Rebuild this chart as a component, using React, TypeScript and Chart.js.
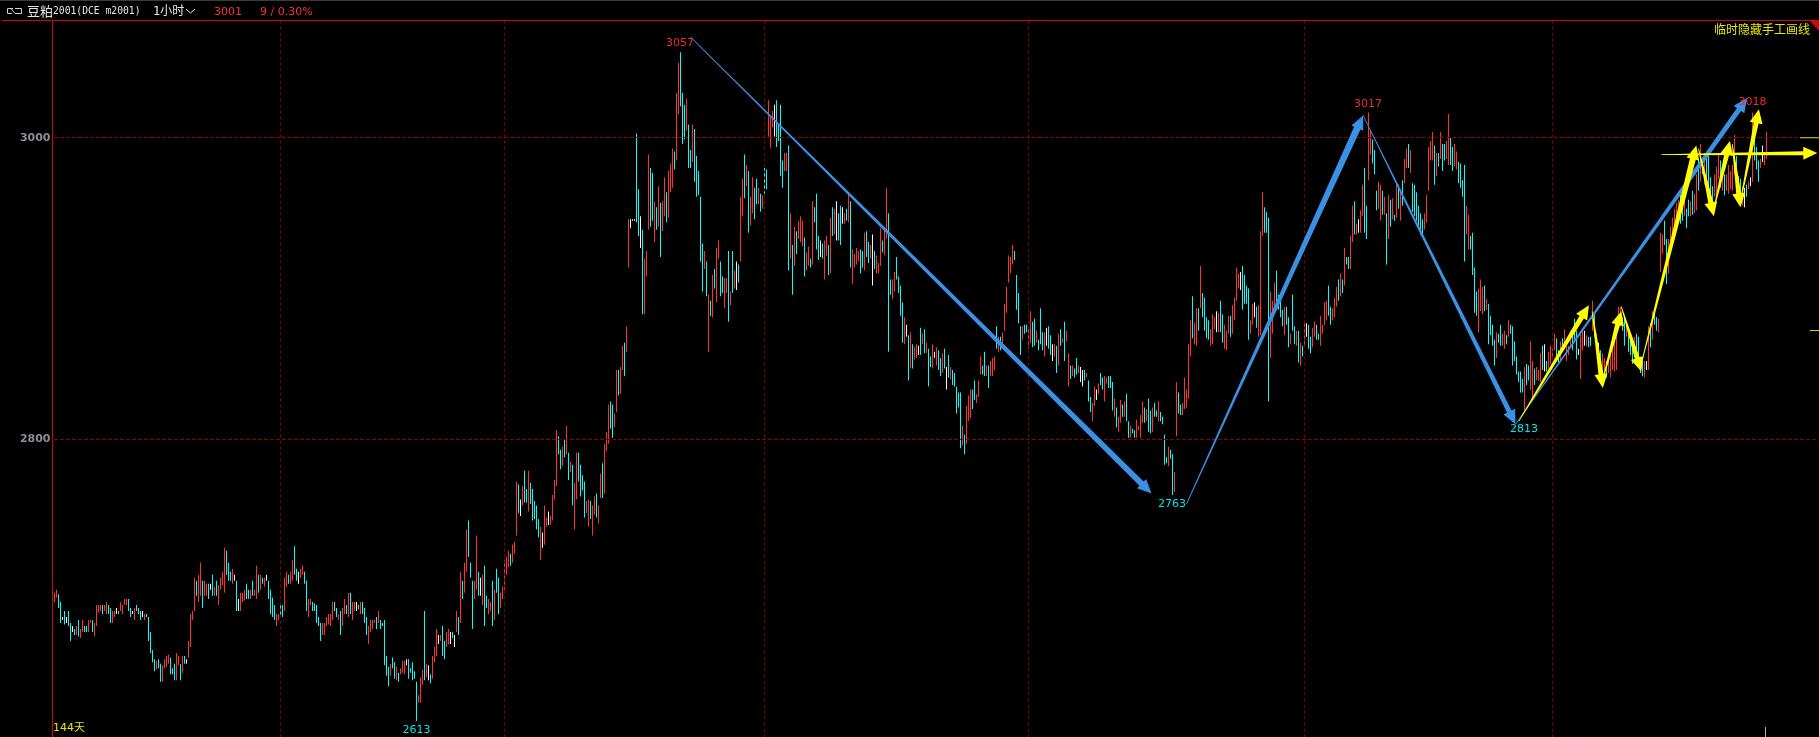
import React, { useEffect, useRef } from "react";
import { Chart, registerables } from "chart.js";

Chart.register(...registerables);

const R = 1, C = -1, W = 0;
type Bar = [number, number, number];

const barsA: Bar[] = [
[2698,2692,R],[2700,2695,R],[2697,2688,C],[2692,2678,C],[2682,2680,W],[2686,2677,C],[2682,2678,W],[2686,2676,C],[2678,2666,C],[2676,2672,W],
[2674,2670,C],[2676,2670,R],[2680,2669,C],[2674,2668,R],[2680,2672,R],[2676,2672,C],[2676,2672,C],[2680,2672,R],[2680,2678,R],[2680,2672,C],
[2678,2669,R],[2690,2676,R],[2690,2685,R],[2690,2686,R],[2690,2684,C],[2690,2686,R],[2692,2684,R],[2690,2684,C],[2688,2678,C],[2686,2678,R],
[2686,2682,R],[2688,2684,W],[2686,2684,C],[2692,2686,R],[2690,2684,R],[2694,2690,R],[2694,2690,R],[2694,2686,C],[2688,2682,C],[2686,2684,W],
[2688,2680,R],[2690,2686,C],[2688,2684,C],[2686,2680,C],[2686,2682,W],[2684,2680,R],[2684,2682,C],[2682,2666,C],[2672,2658,C],[2660,2652,C],
[2654,2646,C],[2653,2647,R],[2654,2648,C],[2651,2639,C],[2650,2639,R],[2654,2648,R],[2656,2649,R],[2657,2651,R],[2655,2644,C],[2648,2644,C],
[2651,2640,C],[2658,2640,R],[2656,2650,R],[2651,2640,C],[2656,2645,R],[2656,2651,C],[2654,2651,W],[2666,2655,R],[2684,2662,R],[2686,2680,R],
[2708,2686,R],[2706,2696,C],[2710,2692,R],[2718,2696,R],[2706,2688,C],[2706,2696,R],[2704,2696,R],[2704,2694,C],[2704,2700,W],[2710,2696,C],
[2702,2696,R],[2706,2696,C],[2703,2690,R],[2708,2700,R],[2712,2703,R],[2728,2698,R],[2726,2710,C],[2718,2706,C],[2712,2706,C],[2714,2704,R],
[2710,2706,W],[2706,2686,C],[2694,2686,W],[2698,2686,R],[2698,2692,R],[2700,2693,R],[2704,2694,C],[2700,2694,C],[2700,2694,R],[2706,2696,C],
[2700,2696,R],[2716,2694,R],[2710,2698,C],[2710,2700,R],[2708,2704,C],[2708,2702,R],[2710,2706,W],[2706,2694,C],[2700,2684,C],[2695,2682,C],
[2690,2680,C],[2684,2676,R],[2684,2680,R],[2690,2682,C],[2690,2682,C],[2708,2686,R],[2712,2702,R],[2710,2704,C],[2712,2704,R],[2720,2706,R],[2729,2710,C],
];

const barsB: Bar[] = [
[2714,2706,C],[2712,2704,W],[2714,2708,R],[2716,2710,R],[2712,2704,C],[2706,2686,C],[2694,2682,R],[2694,2690,R],[2692,2686,C],[2691,2686,C],
[2690,2678,C],[2682,2676,C],[2678,2666,C],[2678,2670,R],[2678,2670,R],[2682,2676,R],[2684,2677,R],[2684,2676,R],[2692,2680,R],[2692,2686,C],
[2688,2682,C],[2684,2680,R],[2686,2670,C],[2688,2676,R],[2694,2684,R],[2690,2684,C],[2698,2682,R],[2698,2684,C],[2692,2680,R],[2692,2686,R],
[2692,2686,W],[2690,2687,C],[2692,2684,R],[2692,2684,C],[2688,2678,C],[2682,2670,C],[2676,2664,R],[2680,2672,R],[2680,2674,R],[2680,2678,R],
[2682,2674,C],[2686,2678,R],[2680,2674,C],[2678,2676,C],[2680,2650,C],[2656,2643,C],[2649,2636,C],[2651,2643,R],[2655,2648,C],[2652,2641,C],
[2649,2640,R],[2645,2639,C],[2648,2644,R],[2653,2645,R],[2653,2644,R],[2654,2650,W],[2654,2641,C],[2648,2645,C],[2652,2640,C],[2646,2641,C],
[2639,2613,C],[2630,2625,R],[2642,2625,R],[2647,2637,R],[2686,2640,C],[2651,2642,R],[2650,2640,W],[2644,2638,C],[2656,2641,R],[2662,2652,R],
[2674,2656,R],[2670,2664,W],[2670,2666,R],[2676,2656,C],[2666,2654,C],[2672,2662,R],[2674,2664,R],[2672,2664,W],[2672,2668,C],[2670,2662,W],
[2686,2672,R],[2682,2670,C],[2712,2678,R],[2706,2694,C],[2718,2698,R],[2740,2712,R],[2746,2722,C],[2718,2708,C],[2706,2674,C],[2706,2694,R],
[2736,2700,R],[2712,2696,C],[2708,2696,W],[2710,2690,R],[2716,2676,C],[2696,2688,C],[2694,2684,R],[2692,2686,R],[2706,2676,C],[2700,2680,R],
[2714,2698,C],[2708,2684,C],[2698,2688,R],[2702,2694,R],[2720,2700,R],[2722,2710,R],[2726,2715,R],[2724,2716,C],[2730,2718,R],[2732,2724,R],
[2772,2736,R],[2770,2751,C],[2760,2749,W],[2769,2756,R],[2779,2758,C],[2767,2758,C],[2779,2752,R],[2771,2757,C],[2767,2746,C],[2759,2747,C],[2756,2740,C],[2747,2735,C],
];

const barsC: Bar[] = [
[2742,2720,R],[2738,2728,W],[2756,2730,R],[2748,2742,R],[2752,2743,W],[2749,2743,R],[2763,2746,R],[2773,2760,R],[2806,2769,R],[2802,2790,C],
[2793,2780,C],[2795,2782,R],[2800,2788,C],[2809,2790,R],[2791,2773,C],[2785,2778,R],[2783,2756,C],[2771,2740,R],[2791,2760,R],[2791,2772,C],
[2783,2762,C],[2776,2766,C],[2772,2748,C],[2759,2751,R],[2760,2742,R],[2759,2747,C],[2756,2736,R],[2762,2750,R],[2764,2748,C],[2756,2744,R],
[2777,2761,R],[2784,2761,C],[2797,2764,R],[2805,2792,R],[2823,2797,R],[2825,2807,C],[2823,2801,C],[2817,2808,R],[2846,2818,R],[2846,2829,C],
[2848,2830,R],[2862,2846,R],[2864,2842,C],[2875,2858,R],[2946,2914,R],[2946,2940,W],[2946,2945,W],[2946,2945,W],[3003,2944,C],[2966,2935,C],
[2948,2927,W],[2939,2883,C],[2920,2883,R],[2925,2908,R],[2989,2939,R],[2980,2941,C],[2977,2945,C],[2958,2931,R],[2954,2939,C],[2968,2941,R],
[2957,2921,C],[2958,2938,R],[2974,2948,R],[2964,2944,C],[2978,2947,R],[2983,2964,R],[2993,2967,R],[2991,2979,C],[3030,2985,R],[3050,3016,R],
[3057,3021,C],[3030,2996,C],[3022,2999,C],[3026,3005,R],[3009,2980,C],[2992,2980,C],[3009,2984,R],[3006,2971,C],[2988,2961,C],[2978,2962,C],
[2961,2918,C],[2930,2898,C],[2925,2913,R],[2918,2895,C],[2896,2858,R],[2892,2882,C],[2909,2881,R],[2913,2900,C],[2927,2891,R],[2932,2920,R],
[2918,2895,C],[2908,2897,C],[2907,2887,R],[2907,2897,R],[2925,2878,C],[2898,2889,R],[2925,2897,C],[2912,2900,R],[2918,2899,W],[2916,2904,C],
[2961,2918,R],[2973,2948,R],[2989,2960,C],[2982,2968,R],[2978,2937,C],[2961,2942,R],[2974,2950,R],[2967,2946,C],[2973,2956,C],[2967,2956,R],
[2963,2951,C],[2962,2953,R],[2980,2963,C],[2979,2966,C],[3025,3001,R],[3015,2993,R],[3018,3007,R],[3022,3001,W],[3025,2994,C],[3009,2998,C],
[3022,2975,C],[2985,2967,C],[2990,2978,R],[2990,2978,R],
];

const barsD: Bar[] = [
[2995,2912,C],[2950,2920,R],[2929,2896,C],[2941,2915,R],[2938,2923,C],[2945,2933,R],[2948,2931,R],[2945,2928,R],[2934,2908,C],[2924,2912,R],
[2928,2915,R],[2920,2914,C],[2958,2916,R],[2954,2944,C],[2963,2926,C],[2935,2919,C],[2932,2921,W],[2930,2920,C],[2932,2906,R],[2935,2922,R],
[2929,2909,C],[2947,2910,R],[2954,2935,C],[2953,2936,R],[2958,2932,W],[2950,2932,C],[2955,2929,C],[2954,2943,W],[2950,2943,R],[2953,2945,C],
[2964,2944,R],[2958,2914,C],[2926,2903,R],[2923,2914,R],[2927,2916,R],[2925,2918,R],[2926,2910,C],[2925,2914,C],[2937,2912,R],[2938,2921,C],
[2931,2917,C],[2929,2920,R],[2936,2902,W],[2925,2913,C],[2922,2910,R],[2917,2910,R],[2940,2915,R],[2932,2924,C],[2941,2922,R],[2967,2933,R],
[2950,2858,C],[2906,2896,C],[2906,2893,R],[2911,2898,R],[2921,2906,C],[2908,2897,C],[2902,2882,C],[2891,2864,C],[2881,2863,R],[2876,2868,W],
[2869,2839,C],[2871,2847,R],[2863,2847,C],[2861,2853,R],[2863,2854,R],[2862,2856,W],[2874,2856,C],[2870,2863,R],[2873,2857,C],[2864,2857,R],
[2860,2835,C],[2855,2848,C],[2863,2847,R],[2858,2854,W],[2861,2849,R],[2859,2846,C],[2854,2842,C],[2857,2844,R],[2860,2847,C],[2848,2833,W],
[2856,2841,C],[2848,2840,R],[2846,2836,C],[2844,2835,C],[2835,2817,C],[2831,2821,C],[2831,2794,C],[2809,2796,R],[2803,2790,C],[2822,2797,R],
[2829,2812,R],[2833,2814,R],[2833,2820,C],[2839,2826,C],[2830,2824,R],[2839,2828,R],[2855,2843,R],[2849,2843,C],[2858,2842,C],[2849,2842,R],
[2849,2834,C],[2852,2842,R],[2854,2842,R],[2855,2846,R],[2875,2860,C],[2868,2858,R],[2868,2859,C],[2871,2861,R],[2890,2872,R],[2901,2884,R],
[2922,2904,R],[2921,2910,R],[2929,2916,R],[2925,2919,C],[2909,2886,C],[2897,2877,C],[2875,2856,C],[2875,2866,R],[2876,2870,C],[2876,2871,C],[2873,2860,R],
];

const barsE: Bar[] = [
[2885,2864,R],[2878,2861,C],[2880,2862,C],[2872,2864,R],[2866,2859,C],[2887,2863,C],[2871,2859,C],[2871,2855,R],[2874,2862,W],[2875,2860,C],
[2869,2856,C],[2863,2852,W],[2863,2855,R],[2862,2844,C],[2870,2849,R],[2873,2862,C],[2867,2864,R],[2878,2852,C],[2872,2865,R],[2857,2835,R],
[2849,2840,C],[2849,2842,R],[2847,2841,C],[2854,2843,C],[2849,2844,R],[2848,2838,W],[2846,2835,W],[2846,2839,C],[2844,2841,R],[2839,2825,C],
[2828,2818,C],[2824,2812,R],[2835,2822,R],[2833,2826,W],[2837,2830,R],[2844,2836,C],[2841,2833,C],[2842,2825,R],[2841,2837,R],[2842,2834,C],
[2842,2834,C],[2838,2819,C],[2827,2815,R],[2821,2808,C],[2815,2805,R],[2826,2811,R],[2823,2815,C],[2825,2815,R],[2830,2812,C],[2812,2801,C],
[2809,2801,R],[2807,2804,C],[2806,2801,C],[2813,2801,R],[2809,2806,R],[2816,2801,R],[2825,2811,R],[2821,2811,C],[2820,2812,R],[2827,2805,C],
[2819,2804,C],[2821,2805,R],[2824,2815,C],[2819,2815,C],[2825,2812,R],[2818,2812,C],[2815,2810,C],[2803,2783,C],[2788,2784,C],[2795,2782,R],
[2793,2787,C],[2790,2763,C],[2778,2765,R],[2838,2802,R],[2831,2817,C],[2823,2816,C],[2824,2816,R],[2841,2820,R],[2833,2821,R],[2863,2827,R],
[2879,2855,R],[2895,2867,C],[2877,2863,R],[2887,2862,R],[2887,2872,C],[2915,2887,R],[2897,2881,C],[2894,2872,C],[2881,2867,C],[2879,2866,C],
[2873,2862,R],[2883,2863,R],[2881,2873,R],[2885,2871,W],[2884,2871,R],[2892,2871,C],[2883,2864,C],[2876,2860,R],[2872,2859,R],[2882,2870,R],
[2882,2868,C],[2889,2870,R],[2894,2879,R],[2914,2892,R],[2910,2900,R],[2911,2899,W],[2915,2886,C],[2909,2890,C],[2902,2890,C],[2900,2866,C],
[2879,2870,R],[2890,2876,R],[2891,2881,W],[2888,2874,C],[2889,2868,R],[2938,2869,R],[2964,2935,R],[2954,2937,C],[2951,2937,C],[2947,2825,C],[2898,2854,R],[2892,2870,R],[2904,2883,R],
];

const barsF: Bar[] = [
[2912,2886,C],[2896,2886,C],[2892,2881,C],[2886,2875,C],[2888,2869,R],[2888,2876,C],[2881,2861,C],[2870,2863,R],[2896,2872,C],[2875,2863,C],
[2872,2862,R],[2872,2851,C],[2864,2849,R],[2862,2855,C],[2877,2862,R],[2877,2868,W],[2876,2860,C],[2868,2857,C],[2874,2861,R],[2878,2868,R],
[2876,2866,C],[2870,2866,C],[2882,2862,R],[2876,2870,R],[2891,2876,R],[2892,2879,R],[2902,2882,C],[2888,2876,C],[2887,2879,R],[2894,2881,R],
[2901,2888,R],[2906,2892,C],[2910,2895,R],[2906,2897,C],[2927,2902,R],[2921,2916,C],[2921,2913,C],[2935,2913,R],[2955,2931,R],[2958,2936,C],
[2943,2936,R],[2946,2937,W],[2952,2937,R],[2969,2948,R],[2980,2937,C],[2955,2933,C],[3017,2972,R],[3005,2989,R],[2999,2983,C],[2992,2976,C],
[2965,2952,C],[2971,2953,R],[2969,2945,R],[2965,2949,C],[2961,2949,R],[2950,2916,C],[2962,2933,R],[2959,2941,C],[2960,2946,R],[2949,2945,C],
[2969,2947,R],[2969,2953,C],[2966,2945,R],[2972,2955,C],[2986,2970,R],[2993,2980,R],[2996,2980,C],[2992,2977,R],[2970,2951,C],[2969,2948,C],
[2964,2945,C],[2955,2940,C],[2950,2936,C],[2946,2934,C],[2950,2939,R],[2962,2944,R],[2994,2965,R],[2998,2985,R],[3004,2985,R],[2995,2969,C],
[2990,2975,R],[2990,2981,C],[3004,2986,R],[2996,2978,C],[2996,2985,C],[2998,2986,R],[3016,2982,R],[3000,2982,C],[2994,2978,C],[2996,2981,R],
[2991,2979,R],[2984,2970,C],[2983,2967,C],[2972,2961,C],[2982,2918,C],[2955,2936,R],[2949,2926,R],[2935,2926,C],[2937,2909,C],[2914,2884,C],
[2898,2882,C],[2900,2871,R],[2906,2885,R],[2901,2883,R],[2902,2885,C],[2893,2886,R],[2890,2863,C],[2882,2869,C],[2876,2862,C],[2866,2849,C],
[2871,2854,R],[2870,2864,C],[2876,2862,C],[2870,2862,R],[2872,2860,R],[2869,2863,C],[2879,2868,R],[2876,2870,C],[2875,2849,C],[2865,2852,C],[2855,2843,C],[2845,2838,C],
];

const barsG: Bar[] = [
[2845,2831,C],[2840,2831,C],[2848,2819,R],[2850,2836,C],[2849,2839,C],[2865,2833,R],[2852,2826,R],[2847,2836,C],[2848,2839,R],[2846,2839,R],
[2857,2838,R],[2862,2846,C],[2863,2845,W],[2852,2845,C],[2858,2847,R],[2862,2850,R],[2860,2855,R],[2870,2859,R],[2867,2854,C],[2859,2851,C],
[2865,2852,R],[2867,2859,C],[2873,2860,R],[2866,2852,R],[2862,2856,R],[2872,2862,R],[2870,2859,C],[2880,2866,C],[2872,2853,C],[2860,2856,W],
[2870,2840,R],[2872,2859,R],[2872,2862,W],[2869,2862,R],[2868,2861,C],[2868,2862,C],[2892,2872,R],[2883,2868,C],[2870,2859,R],[2864,2859,W],
[2859,2846,C],[2857,2844,R],[2854,2839,R],[2852,2841,C],[2855,2844,R],[2859,2841,R],[2866,2846,R],[2868,2845,R],[2875,2846,R],[2888,2877,R],
[2888,2875,R],[2881,2872,C],[2881,2862,C],[2877,2868,R],[2870,2858,C],[2866,2856,C],[2863,2850,C],[2868,2855,R],[2870,2857,C],[2868,2851,C],
[2855,2844,C],[2852,2842,C],[2852,2841,R],[2852,2846,W],[2875,2846,R],[2877,2861,C],[2885,2866,R],[2883,2876,C],[2881,2872,C],[2880,2871,R],
[2937,2911,R],[2936,2923,R],[2945,2929,C],[2933,2903,C],[2933,2910,R],[2941,2931,R],[2947,2934,R],[2953,2934,R],[2957,2940,R],[2959,2947,R],
[2963,2943,C],[2955,2945,C],[2960,2948,R],[2953,2940,C],[2959,2948,C],[2958,2948,R],[2965,2949,C],[2963,2950,R],[2976,2952,R],[2986,2965,C],
[2996,2971,R],[2985,2976,C],[2990,2969,R],[2989,2971,C],[2988,2968,C],[2974,2961,C],[2968,2954,C],[2976,2961,R],[2981,2960,R],[2990,2973,R],
[2985,2967,C],[2980,2965,R],[2976,2962,C],[2976,2965,R],[2982,2963,R],[2978,2966,R],[2982,2965,R],[3002,2976,R],[2988,2973,C],[2975,2960,C],
[2973,2963,C],[2968,2955,R],[2967,2954,W],[2969,2961,C],[2971,2966,R],[2974,2968,W],[3017,2971,R],[3003,2985,C],[2994,2979,C],[2985,2971,C],[2986,2980,R],[2995,2984,W],[2990,2982,R],[3004,2986,R],
];

const allBars: Bar[] = [...barsA, ...barsB, ...barsC, ...barsD, ...barsE, ...barsF, ...barsG];
const emptySlots = 882 - allBars.length;
const categories: string[] = [...allBars.map((_, i) => String(i)), ...Array.from({ length: Math.max(0, emptySlots) }, (_, i) => `+${i}`)];

const sessionBreaks = [113, 225, 355, 487, 625, 749];
const priceTicks = [2800, 3000];

// [fromIndex, fromPrice, toIndex, toPrice, shaftWidthAtTip]
const blueArrows = [
  [318, 3067, 548.5, 2764, 6],
  [566, 2757, 654.3, 3015, 7],
  [654.3, 3015, 730.5, 2810, 5],
  [730.5, 2810, 846.3, 3026.5, 5],
];
const yellowArrows = [
  [732.2, 2812, 767.2, 2889, 5],
  [768.8, 2885, 774.2, 2834, 5],
  [774, 2839, 783.4, 2885, 5],
  [783.4, 2888, 793.4, 2845, 5],
  [793.4, 2850, 820.9, 2995, 6],
  [822, 2993, 829.7, 2948, 5],
  [829.7, 2953, 837.7, 2998, 5],
  [838.9, 2996, 843, 2954, 5],
  [843, 2958, 852.2, 3019, 5],
  [803.4, 2989, 881.4, 2990, 4],
];
const extremeLabels: [string, number, number, string][] = [
  ["3057", 312.7, 3063, "#ee2c2c"],
  ["3017", 656.8, 3022.6, "#ee2c2c"],
  ["3018", 849, 3024, "#ee2c2c"],
  ["2763", 558.8, 2757, "#00e6e6"],
  ["2813", 734.8, 2807, "#00e6e6"],
  ["2613", 181, 2607, "#00e6e6"],
];

const RED = "#ff3232";
const CYAN = "#00ffff";
const WHITE = "#f4f4f4";
const toneColor = (t: number) => (t === R ? RED : t === C ? CYAN : WHITE);

function arrow(ctx: CanvasRenderingContext2D, x0: number, y0: number, x1: number, y1: number, tipW: number, color: string) {
  const dx = x1 - x0, dy = y1 - y0, len = Math.hypot(dx, dy);
  const ux = dx / len, uy = dy / len, nx = -uy, ny = ux;
  const headL = 14, headW = 6.5;
  const bx = x1 - ux * headL, by = y1 - uy * headL;
  ctx.fillStyle = color;
  ctx.beginPath();
  ctx.moveTo(x0 + nx * 0.4, y0 + ny * 0.4);
  ctx.lineTo(bx + (nx * tipW) / 2, by + (ny * tipW) / 2);
  ctx.lineTo(bx + nx * headW, by + ny * headW);
  ctx.lineTo(x1, y1);
  ctx.lineTo(bx - nx * headW, by - ny * headW);
  ctx.lineTo(bx - (nx * tipW) / 2, by - (ny * tipW) / 2);
  ctx.lineTo(x0 - nx * 0.4, y0 - ny * 0.4);
  ctx.closePath();
  ctx.fill();
}

const overlay = {
  id: "overlay",
  beforeDraw(chart: any) {
    const { ctx, width, height } = chart;
    ctx.save();
    ctx.fillStyle = "#000";
    ctx.fillRect(0, 0, width, height);
    ctx.restore();
  },
  afterDraw(chart: any) {
    const { ctx, width, height } = chart;
    const x = chart.scales.x, y = chart.scales.y;
    ctx.save();
    // frame
    ctx.fillStyle = "#3c3c3c";
    ctx.fillRect(0, 0, width, 1);
    ctx.fillStyle = "#c80a0a";
    ctx.fillRect(2, 20, width - 2, 1);
    ctx.fillRect(52, 20, 1, height - 20);
    ctx.beginPath();
    ctx.moveTo(1810, 21);
    ctx.lineTo(1819, 21);
    ctx.lineTo(1819, 31);
    ctx.closePath();
    ctx.fill();

    // drawn arrows
    blueArrows.forEach(([a, b, c, d, w]) =>
      arrow(ctx, x.getPixelForValue(a), y.getPixelForValue(b), x.getPixelForValue(c), y.getPixelForValue(d), w, "#3a90e2"));
    yellowArrows.forEach(([a, b, c, d, w]) =>
      arrow(ctx, x.getPixelForValue(a), y.getPixelForValue(b), x.getPixelForValue(c), y.getPixelForValue(d), w, "#ffff00"));

    // extreme labels
    ctx.textAlign = "center";
    ctx.textBaseline = "middle";
    ctx.font = '11px "DejaVu Sans"';
    extremeLabels.forEach(([t, i, p, col]) => {
      ctx.fillStyle = col;
      ctx.fillText(t, x.getPixelForValue(i), y.getPixelForValue(p));
    });

    // header
    ctx.textAlign = "left";
    ctx.strokeStyle = "#d0d0d0";
    ctx.lineWidth = 1;
    ctx.beginPath();
    ctx.moveTo(13, 8.5); ctx.lineTo(7.5, 8.5); ctx.lineTo(7.5, 13.5); ctx.lineTo(12, 13.5);
    ctx.moveTo(11, 8.5); ctx.lineTo(15, 13.5);
    ctx.moveTo(15, 8.5); ctx.lineTo(21.5, 8.5); ctx.lineTo(21.5, 13.5); ctx.lineTo(15, 13.5);
    ctx.stroke();
    ctx.fillStyle = "#e6e6e6";
    ctx.font = '13px "Noto Sans CJK SC"';
    ctx.fillText("豆粕", 27, 11.5);
    ctx.font = '9.7px "DejaVu Sans Mono"';
    ctx.fillText("2001(DCE m2001)", 53, 11.5);
    ctx.font = '12px "DejaVu Sans Mono", "Noto Sans CJK SC"';
    ctx.fillText("1小时", 153, 11.5);
    ctx.beginPath();
    ctx.moveTo(186, 9); ctx.lineTo(190.5, 13); ctx.lineTo(195, 9);
    ctx.strokeStyle = "#e6e6e6";
    ctx.stroke();
    ctx.fillStyle = "#fa3232";
    ctx.font = '11px "DejaVu Sans"';
    ctx.fillText("3001", 214, 12);
    ctx.fillText("9 / 0.30%", 260, 12);

    ctx.fillStyle = "#e6e600";
    ctx.font = '12px "Noto Sans CJK SC"';
    ctx.fillText("临时隐藏手工画线", 1714, 29);
    ctx.font = '11px "DejaVu Sans", "Noto Sans CJK SC"';
    ctx.fillText("144天", 53, 728);

    // right edge markers
    ctx.fillStyle = "#d8d800";
    ctx.fillRect(1800, y.getPixelForValue(3000.5), 19, 1);
    ctx.fillRect(1810, y.getPixelForValue(2872.5), 9, 1);
    ctx.fillStyle = "#b0b0b0";
    ctx.fillRect(1765, 727, 1, 10);
    ctx.restore();
  },
};

export default function App() {
  const ref = useRef<HTMLCanvasElement | null>(null);
  useEffect(() => {
    document.body.style.margin = "0";
    document.body.style.background = "#000";
    const chart = new Chart(ref.current as HTMLCanvasElement, {
      type: "bar",
      data: {
        labels: categories,
        datasets: [
          {
            data: allBars.map((b) => [b[1], b[0]]) as any,
            backgroundColor: allBars.map((b) => toneColor(b[2])),
            borderWidth: 0,
            barThickness: 1,
            inflateAmount: 0,
          },
        ],
      },
      plugins: [overlay],
      options: {
        animation: false,
        responsive: false,
        devicePixelRatio: 1,
        layout: { padding: { top: 20.5, right: 1.5, bottom: 0, left: 0 } },
        plugins: { legend: { display: false }, tooltip: { enabled: false } },
        scales: {
          x: {
            type: "category",
            offset: true,
            border: { display: false, dash: [3, 3] },
            grid: { color: "#8e0000", offset: false, drawTicks: false, z: 1 },
            ticks: { display: false },
            afterBuildTicks: (s: any) => {
              s.ticks = sessionBreaks.map((value) => ({ value }));
            },
            afterFit: (s: any) => {
              s.height = 0;
              s.paddingLeft = 0;
              s.paddingRight = 0;
            },
          },
          y: {
            min: 2602.3,
            max: 3078,
            border: { display: false, dash: [4, 2] },
            grid: { color: "#8e0000", drawTicks: false, z: 1 },
            ticks: {
              color: "#8a8f96",
              padding: 3,
              font: { family: '"DejaVu Sans"', size: 11, weight: "bold" },
              callback: (v: any) => String(v),
            },
            afterBuildTicks: (s: any) => {
              s.ticks = priceTicks.map((value) => ({ value }));
            },
            afterFit: (s: any) => {
              s.width = 53.5;
              s.paddingTop = 0;
              s.paddingBottom = 0;
            },
          },
        },
      } as any,
    });
    return () => chart.destroy();
  }, []);
  return <canvas ref={ref} width={1819} height={737} style={{ display: "block" }} />;
}
